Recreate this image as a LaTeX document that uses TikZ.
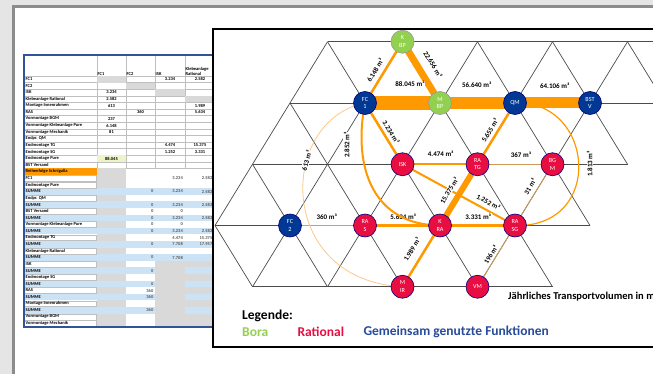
\documentclass[tikz,border=0pt]{standalone}
\usepackage{fontspec}
\setmainfont{Carlito}
\usetikzlibrary{positioning, backgrounds}

\definecolor{boragreen}{RGB}{146,208,80}
\definecolor{ratred}{RGB}{232,14,66}
\definecolor{sharedblue}{RGB}{0,56,147}
\definecolor{legendblue}{RGB}{40,75,155}
\definecolor{floworange}{RGB}{255,153,0}
\definecolor{flowtan}{RGB}{205,155,85}
\definecolor{flowlight}{RGB}{255,200,135}
\definecolor{pagegray}{RGB}{229,229,229}
\definecolor{cellgray}{RGB}{217,217,217}
\definecolor{sumblue}{RGB}{204,226,245}
\definecolor{yellowcell}{RGB}{238,244,200}
\definecolor{orangecell}{RGB}{255,153,0}
\definecolor{tableblue}{RGB}{47,85,151}

\newcommand\rowy[1]{76+(#1-1)*6.6}

\begin{document}
\begin{tikzpicture}[x=1pt,y=-1pt,
  grid line/.style={draw=black!70, line width=0.7pt},
  cell line/.style={draw=black!25, line width=0.3pt},
  table text/.style={font=\fontsize{4.5}{5}\selectfont\bfseries, inner sep=0.5pt},
  flow node/.style={circle, minimum size=23pt, inner sep=0pt, line width=0.6pt,
    text=white, align=center, font=\fontsize{6.2}{7.5}\selectfont},
  bora node/.style={flow node, fill=boragreen, draw=black!40},
  rational node/.style={flow node, fill=ratred, draw=black!50!blue},
  shared node/.style={flow node, fill=sharedblue, draw=black!50!blue},
  thin flow/.style={draw=flowtan},
  flow label/.style={fill=white, text=black, inner sep=0.5pt, font=\fontsize{7}{8}\selectfont\bfseries},
  legend text/.style={inner sep=0pt, font=\fontsize{13.5}{16}\selectfont\bfseries}]
  \useasboundingbox (0,0) rectangle (653,374);

  \begin{pgfonlayer}{background}
  \fill[pagegray] (0,0) rectangle (653,374);
  \filldraw[fill=white, draw=black!45, line width=2.5pt] (13.5,6.5) rectangle (700,420);

  % Excel table
  \fill[white] (24,55) rectangle (215,327);
  \foreach \x in {97,126,155,185} \draw[cell line] (\x,55) -- (\x,{\rowy{15}});
  \foreach \i in {1,...,15} \draw[cell line] (24,{\rowy{\i}}) -- (215,{\rowy{\i}});
  \foreach \x/\xx [count=\i] in {97/126,126/155,155/185,185/215}
    \fill[cellgray] (\x,{\rowy{\i}}) rectangle (\xx,{\rowy{\i}+6.6});
  \fill[yellowcell] (97,{\rowy{13}}) rectangle (126,{\rowy{14}});
  \fill[cellgray] (97,{\rowy{15}}) rectangle (126,{\rowy{39}});
  \fill[cellgray] (155,{\rowy{29}}) rectangle (215,{\rowy{39}});
  \fill[orangecell] (24,{\rowy{15}}) rectangle (97,{\rowy{16}});
  \foreach \i in {18,20,...,28}
    \fill[sumblue] (24,{\rowy{\i}}) rectangle (215,{\rowy{\i}+6.6});
  \foreach \i in {30,32,34,36} {
    \fill[sumblue] (24,{\rowy{\i}}) rectangle (155,{\rowy{\i}+6.6});
    \fill[sumblue] (185,{\rowy{\i}}) rectangle (215,{\rowy{\i}+6.6});
  }
  \foreach \i in {16,17,19,21,...,37,38}
    \filldraw[cell line, fill=white] (24.6,{\rowy{\i}+0.4}) rectangle (96.4,{\rowy{\i}+6.2});
  \draw[tableblue, line width=1.2pt] (24,55) rectangle (215,327);

  \node[table text, anchor=south west] (h1) at (97,76) {FC1};
  \node[table text, anchor=south west] (h2) at (126,76) {FC2};
  \node[table text, anchor=south west] (h3) at (155,76) {ISK};
  \node[table text, anchor=south west, align=left] (h4) at (185,76) {Klebeanlage\\Rational};
  \foreach \lab/\va/\vb/\vc/\vd [count=\i] in {
    FC1/{}/{}/3.234/2.582, FC2/{}/{}/{}/{}, ISK/3.234/{}/{}/{},
    Klebeanlage Rational/2.582/{}/{}/{}, Montage Innenrahmen/613/{}/{}/1.989,
    RAS/{}/360/{}/5.634, Vormontage BGM/237/{}/{}/{},
    Vormontage Klebeanlage Pure/6.148/{}/{}/{}, Vormontage Mechanik/81/{}/{}/{},
    Endpr. QM/{}/{}/{}/{}, Endmontage TG/{}/{}/4.474/15.375,
    Endmontage SG/{}/{}/1.252/3.331, Endmontage Pure/88.045/{}/{}/{},
    BST Versand/{}/{}/{}/{}} {
    \node[table text, anchor=west] at (25,{\rowy{\i}+3.3}) {\lab};
    \node[table text] at (111.5,{\rowy{\i}+3.3}) {\va};
    \node[table text] at (140.5,{\rowy{\i}+3.3}) {\vb};
    \node[table text] at (170,{\rowy{\i}+3.3}) {\vc};
    \node[table text] at (200,{\rowy{\i}+3.3}) {\vd};
  }
  \foreach \lab/\va/\vb/\vc/\vd [count=\i from 15] in {
    Reihenfolge Schnigalla/{}/{}/{}/{}, FC1/{}/{}/3.234/2.582,
    Endmontage Pure/{}/{}/{}/{}, SUMME/{}/0/3.234/2.582,
    Endpr. QM/{}/{}/{}/{}, SUMME/{}/0/3.234/2.582,
    BST Versand/{}/0/0/{}, SUMME/{}/0/3.234/2.582,
    Vormontage Klebeanlage Pure/{}/0/0/{}, SUMME/{}/0/3.234/2.582,
    Endmontage TG/{}/{}/4.474/15.375, SUMME/{}/0/7.708/17.957,
    Klebeanlage Rational/{}/{}/{}/{}, SUMME/{}/0/7.708/{},
    ISK/{}/{}/{}/{}, SUMME/{}/0/{}/{},
    Endmontage SG/{}/{}/{}/{}, SUMME/{}/0/{}/{},
    RAS/{}/360/{}/{}, SUMME/{}/360/{}/{},
    Montage Innenrahmen/{}/{}/{}/{}, SUMME/{}/360/{}/{},
    Vormontage BGM/{}/{}/{}/{}, Vormontage Mechanik/{}/{}/{}/{}} {
    \node[table text, anchor=west] at (25,{\rowy{\i}+3.3}) {\lab};
    \node[table text, anchor=east, text=black!65] at (125,{\rowy{\i}+3.3}) {\va};
    \node[table text, anchor=east, text=black!65] at (154,{\rowy{\i}+3.3}) {\vb};
    \node[table text, anchor=east, text=black!65] at (183.5,{\rowy{\i}+3.3}) {\vc};
    \node[table text, anchor=east, text=black!65] at (213,{\rowy{\i}+3.3}) {\vd};
  }

  % panel with the triangle grid
  \filldraw[fill=white, draw=black, line width=2pt] (213,29) rectangle (700,347);
  \foreach \c in {0,...,13} \foreach \r in {0,...,4}
    \coordinate (g\c-\r) at ({215+37.5*\c},{41.75+61.25*\r});
  \foreach \a/\b in {g3-0/g13-0, g2-1/g12-1, g1-2/g11-2, g0-3/g10-3, g1-4/g9-4,
      g3-0/g7-4, g5-0/g9-4, g7-0/g10-3, g9-0/g11-2, g11-0/g12-1,
      g2-1/g5-4, g1-2/g3-4, g0-3/g1-4,
      g3-0/g0-3, g5-0/g1-4, g7-0/g3-4, g9-0/g5-4, g11-0/g7-4}
    \draw[grid line] (\a) -- (\b);
  \end{pgfonlayer}

  \node[bora node] (1) at (g5-0) {K\\BP};
  \node[shared node] (2) at (g4-1) {FC\\1};
  \node[bora node] (3) at (g6-1) {M\\BP};
  \node[shared node] (4) at (g8-1) {QM};
  \node[shared node] (5) at (g10-1) {BST\\V};
  \node[rational node] (6) at (g5-2) {ISK};
  \node[rational node] (7) at (g7-2) {RA\\TG};
  \node[rational node] (8) at (g9-2) {BG\\M};
  \node[shared node] (9) at (g2-3) {FC\\2};
  \node[rational node] (10) at (g4-3) {RA\\S};
  \node[rational node] (11) at (g6-3) {K\\RA};
  \node[rational node] (12) at (g8-3) {RA\\SG};
  \node[rational node] (13) at (g5-4) {M\\IR};
  \node[rational node] (14) at (g7-4) {VM};

  \begin{pgfonlayer}{background}
  \path[every edge/.style={draw=floworange}]
    (1.center) edge[line width=2.5pt] node[flow label, pos=0.54, sloped, above=4pt] {6.148 m³} (2.center)
    (1.center) edge[line width=7pt] node[flow label, pos=0.49, sloped, above=7.5pt] {22.656 m³} (3.center)
    (2.center) edge[line width=14pt] node[flow label, pos=0.6, above=8.5pt] {88.045 m³} (3.center)
    (3.center) edge[line width=12pt] node[flow label, pos=0.49, above=8.5pt] {56.640 m³} (4.center)
    (4.center) edge[line width=11pt] node[flow label, pos=0.53, above=8.5pt] {64.106 m³} (5.center)
    (2.center) edge[line width=2.5pt] node[flow label, pos=0.54, sloped, above=2.5pt] {3.234 m³} (6.center)
    (4.center) edge[line width=2.5pt] node[flow label, pos=0.51, sloped, above=2.7pt] {5.655 m³} (7.center)
    (6.center) edge[line width=2.5pt] node[flow label, pos=0.51, above=6pt] {4.474 m³} (7.center)
    (7.center) edge[thin flow, line width=1pt] node[flow label, pos=0.58, above=6pt] {367 m³} (8.center)
    (6.center) edge[line width=2pt] node[flow label, pos=0.73, sloped, above=3.7pt] {1.252 m³} (12.center)
    (7.center) edge[line width=6pt] node[flow label, pos=0.52, sloped, above=4.2pt] {15.375 m³} (11.center)
    (8.center) edge[thin flow, line width=0.8pt] node[flow label, pos=0.43, sloped, above=4pt] {31 m³} (12.center)
    (9.center) edge[line width=1.2pt] node[flow label, pos=0.49, above=4.4pt] {360 m³} (10.center)
    (10.center) edge[line width=3pt] node[flow label, pos=0.51, above=4.4pt] {5.634 m³} (11.center)
    (11.center) edge[line width=3pt] node[flow label, pos=0.51, above=4.4pt] {3.331 m³} (12.center)
    (11.center) edge[line width=2.5pt] node[flow label, pos=0.49, sloped, above=7pt] {1.989 m³} (13.center)
    (12.center) edge[thin flow, line width=0.8pt] node[flow label, pos=0.52, sloped, above=2pt] {196 m³} (14.center);
  \draw[floworange, line width=2pt] (2.center) .. controls (352,170) and (375,225) .. (11.center)
    node[flow label, pos=0.22, xshift=-15pt, rotate=90] {2.852 m³};
  \draw[flowlight, line width=0.8pt] (2.center) .. controls (278,120) and (275,280) .. (13.center)
    node[flow label, pos=0.35, sloped] {613 m³};
  \draw[floworange, line width=1.2pt] (4.center) .. controls (595,100) and (605,228) .. (12.center)
    node[flow label, pos=0.5, xshift=11pt, rotate=90] {1.813 m³};
  \end{pgfonlayer}

  \node[anchor=west, inner sep=0pt, font=\fontsize{10.5}{12}\selectfont\bfseries] (einheit) at (508,296) {Jährliches Transportvolumen in m³};
  \node[legend text, anchor=west] (legende) at (242,316) {Legende:};
  \node[legend text, anchor=west, text=boragreen] (bora) at (242,332) {Bora};
  \node[legend text, text=ratred, right=29pt of bora] (rational) {Rational};
  \node[legend text, text=legendblue, right=19pt of rational] (gemeinsam) {Gemeinsam genutzte Funktionen};
\end{tikzpicture}
\end{document}
